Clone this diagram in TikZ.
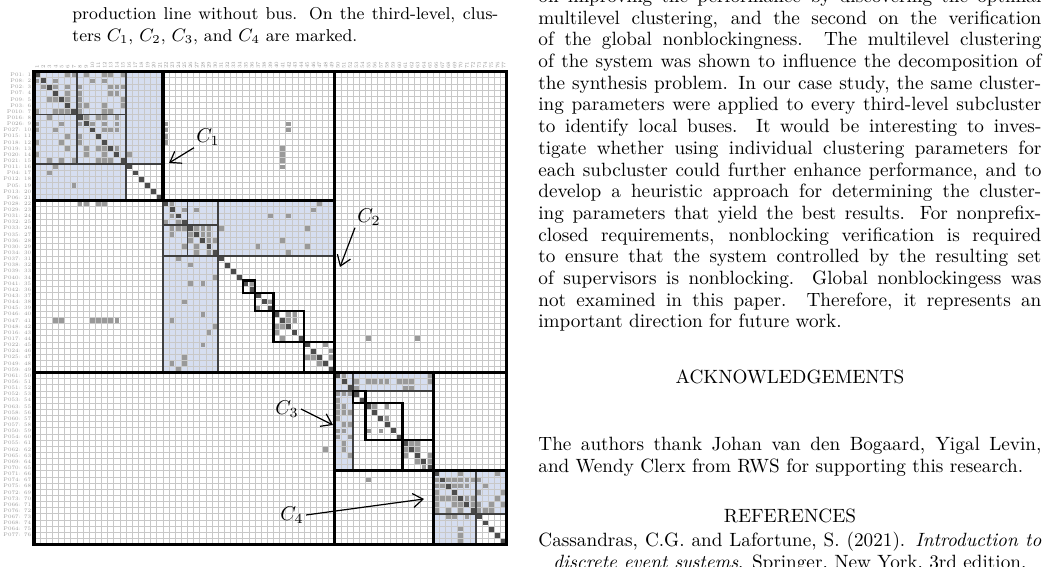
\documentclass[tikz,border=0pt]{standalone}
\usepackage{amsmath,amssymb}
\usepackage{tikz}
\usetikzlibrary{arrows.meta}
\definecolor{blockfill}{RGB}{214,222,240}
\definecolor{gridcol}{RGB}{200,200,200}
\tikzset{matgrid/.style={gridcol, line width=0.35pt}}
\tikzset{bus/.style={fill=blockfill}}
\tikzset{subbox/.style={draw=black!75, line width=0.8pt}}
\tikzset{diagbox/.style={draw=black, line width=1.1pt}}
\tikzset{mainline/.style={draw=black, line width=1.6pt}}
\tikzset{entry/.style={fill=black!40}}
\tikzset{pivot/.style={fill=black!70}}
\tikzset{clab/.style={inner sep=1pt, font=\fontsize{10}{12}\selectfont}}
\tikzset{carrow/.style={-{Straight Barb[length=5pt,width=7pt]}, line width=0.6pt}}
\tikzset{bodytext/.style={inner sep=0pt, text width=251.5pt, align=justify,
    font=\fontsize{9.6}{10.85}\selectfont}}
\tikzset{heading/.style={inner sep=0pt, font=\fontsize{9.6}{10.85}\selectfont}}
\tikzset{tag/.style={inner sep=0pt, text=black!40, font=\fontsize{2.6}{3}\selectfont}}
% random entries in a block: rows r1..r2, cols c1..c2, density
\newcommand{\blockdots}[5]{%
  \foreach \r in {#1,...,#2}{\foreach \c in {#3,...,#4}{%
      \pgfmathtruncatemacro\hit{rnd<#5}%
      \ifnum\hit=1 \fill[entry] (\c-0.88,\r-0.88) rectangle (\c-0.12,\r-0.12);\fi}}}
\begin{document}
\begin{tikzpicture}[x=0.5pt,y=-0.5pt]
  \useasboundingbox (0,0) rectangle (1046,567);
  \clip (0,0) rectangle (1046,567);
  \fill[white] (0,0) rectangle (1046,567);

  % caption
  \node[bodytext, text width=213pt, anchor=north west, font=\fontsize{8.6}{10.85}\selectfont] (cap) at (72,7)
    {production line without bus. On the third-level, clus-\linebreak
     ters $C_1$, $C_2$, $C_3$, and $C_4$ are marked.};

  % matrix
  \begin{scope}[shift={(34,71.7)}, x=3.07pt, y=-3.07pt]
    \pgfmathsetseed{17}
    % bus areas
    \fill[bus] (0,0) rectangle (21,15);
    \fill[bus] (0,15) rectangle (15,21);
    \fill[bus] (21,21) rectangle (49,30);
    \fill[bus] (21,30) rectangle (30,49);
    \fill[bus] (49,49) rectangle (65,52);
    \fill[bus] (49,52) rectangle (52,65);
    \fill[bus] (65,65) rectangle (77,72);
    \fill[bus] (65,72) rectangle (72,77);
    \draw[matgrid, step=3.07pt] (0,0) grid (77,77);
    % entries
    \blockdots{1}{7}{1}{7}{0.25}
    \blockdots{1}{7}{8}{15}{0.3}
    \blockdots{8}{15}{1}{7}{0.25}
    \blockdots{8}{15}{8}{15}{0.5}
    \blockdots{1}{15}{16}{21}{0.04}
    \blockdots{16}{21}{1}{15}{0.03}
    \blockdots{22}{25}{22}{25}{0.6}
    \blockdots{22}{25}{26}{30}{0.3}
    \blockdots{26}{30}{22}{25}{0.3}
    \blockdots{26}{30}{26}{30}{0.6}
    \blockdots{22}{30}{31}{49}{0.07}
    \blockdots{31}{49}{22}{30}{0.08}
    \blockdots{35}{36}{35}{36}{0.7}
    \blockdots{37}{39}{37}{39}{0.5}
    \blockdots{40}{44}{40}{44}{0.5}
    \blockdots{45}{49}{45}{49}{0.4}
    \blockdots{50}{52}{50}{65}{0.4}
    \blockdots{53}{65}{50}{52}{0.5}
    \blockdots{55}{60}{55}{60}{0.4}
    \blockdots{61}{65}{61}{65}{0.4}
    \blockdots{66}{72}{66}{77}{0.5}
    \blockdots{73}{77}{66}{72}{0.3}
    % scattered entries
    \foreach \r/\c in {9/22,10/22,11/22,12/22,9/42,10/42,13/41,14/41,15/41,16/41,
        22/8,22/9,22/11,22/12,41/4,41/5,41/10,41/11,41/12,41/13,41/14,
        44/63,44/55,62/48,67/55}
      \fill[entry] (\c-0.88,\r-0.88) rectangle (\c-0.12,\r-0.12);
    \foreach \i in {1,...,77}
      \fill[pivot] (\i-0.9,\i-0.9) rectangle (\i-0.1,\i-0.1);
    % sub-blocks
    \foreach \a/\b/\c/\d in {0/0/7/7,7/0/15/7,0/7/7/15,7/7/15/15,15/0/21/15,0/15/15/21,15/15/21/21,
        21/21/25/25,25/21/30/25,21/25/25/30,25/25/30/30,30/21/49/30,21/30/30/49,
        49/49/52/52,52/49/65/52,49/52/52/65,52/52/65/65,
        65/65/72/72,72/65/77/72,65/72/72/77,72/72/77/77}
      \draw[subbox] (\a,\b) rectangle (\c,\d);
    \foreach \a/\b in {34/36,36/39,39/44,44/49,52/54,54/60,60/65}
      \draw[diagbox] (\a,\a) rectangle (\b,\b);
    % level lines
    \draw[mainline] (0,0) rectangle (77,77);
    \draw[mainline] (0,49) -- (77,49) (49,0) -- (49,77);
    \draw[mainline] (0,21) -- (49,21) (21,0) -- (21,21);
    \draw[mainline] (49,65) -- (77,65) (65,49) -- (65,77);
    % labels
    \foreach \i in {1,...,77}
      \node[tag, rotate=90, anchor=west] at (\i-0.5,-0.4) {\i};
    \foreach \n [count=\i] in {01,08,02,07,09,03,010,016,026,027,015,018,019,020,021,011,04,012,05,013,06,
        028,029,031,032,033,035,036,030,034,037,038,039,040,041,042,043,044,045,046,047,048,
        016,017,022,024,025,049,059,061,056,051,052,053,063,058,060,057,050,054,055,062,
        065,069,070,071,074,075,072,073,066,076,067,068,064,077}
      \node[tag, anchor=east] at (-0.4,\i-0.5) {P\n: \i};
  \end{scope}

  % cluster markers
  \node[clab] (c1) at (208,137) {$C_1$};
  \coordinate (c1tip) at (169,163);
  \draw[carrow] (c1.south west) -- (c1tip);
  \node[clab] (c2) at (369,217) {$C_2$};
  \coordinate (c2tip) at (340,267);
  \draw[carrow] (c2.south west) -- (c2tip);
  \node[clab] (c3) at (287,409) {$C_3$};
  \coordinate (c3tip) at (333,425);
  \draw[carrow] (c3.east) -- (c3tip);
  \node[clab] (c4) at (292,515) {$C_4$};
  \coordinate (c4tip) at (424,499);
  \draw[carrow] (c4.east) -- (c4tip);

  % right column
  \node[bodytext, anchor=north west] (body) at (538,-11.5)
    {on improving the performance by discovering the optimal\linebreak
     multilevel clustering, and the second on the verification\linebreak
     of the global nonblockingness. The multilevel clustering\linebreak
     of the system was shown to influence the decomposition of\linebreak
     the synthesis problem. In our case study, the same cluster-\linebreak
     ing parameters were applied to every third-level subcluster\linebreak
     to identify local buses. It would be interesting to inves-\linebreak
     tigate whether using individual clustering parameters for\linebreak
     each subcluster could further enhance performance, and to\linebreak
     develop a heuristic approach for determining the cluster-\linebreak
     ing parameters that yield the best results. For nonprefix-\linebreak
     closed requirements, nonblocking verification is required\linebreak
     to ensure that the system controlled by the resulting set\linebreak
     of supervisors is nonblocking. Global nonblockingess was\linebreak
     not examined in this paper. Therefore, it represents an\linebreak
     important direction for future work.};
  \node[heading, anchor=base] (ack) at (790,384) {ACKNOWLEDGEMENTS};
  \node[bodytext, anchor=north west] (thanks) at (538,437)
    {The authors thank Johan van den Bogaard, Yigal Levin,\linebreak
     and Wendy Clerx from RWS for supporting this research.};
  \node[heading, anchor=base] (refs) at (790,522) {REFERENCES};
  \node[bodytext, anchor=north west] (bib) at (538,532)
    {\hangindent=7.5pt\hangafter=1
     Cassandras, C.G. and Lafortune, S. (2021). \textit{Introduction to}\linebreak
     \textit{discrete event systems}. Springer, New York, 3rd edition.\par
     \hangindent=7.5pt\hangafter=1
     de Queiroz, M.H. and Cury, J.E.R. (2000). Modular supervisory control of large scale discrete event systems.};
\end{tikzpicture}
\end{document}
